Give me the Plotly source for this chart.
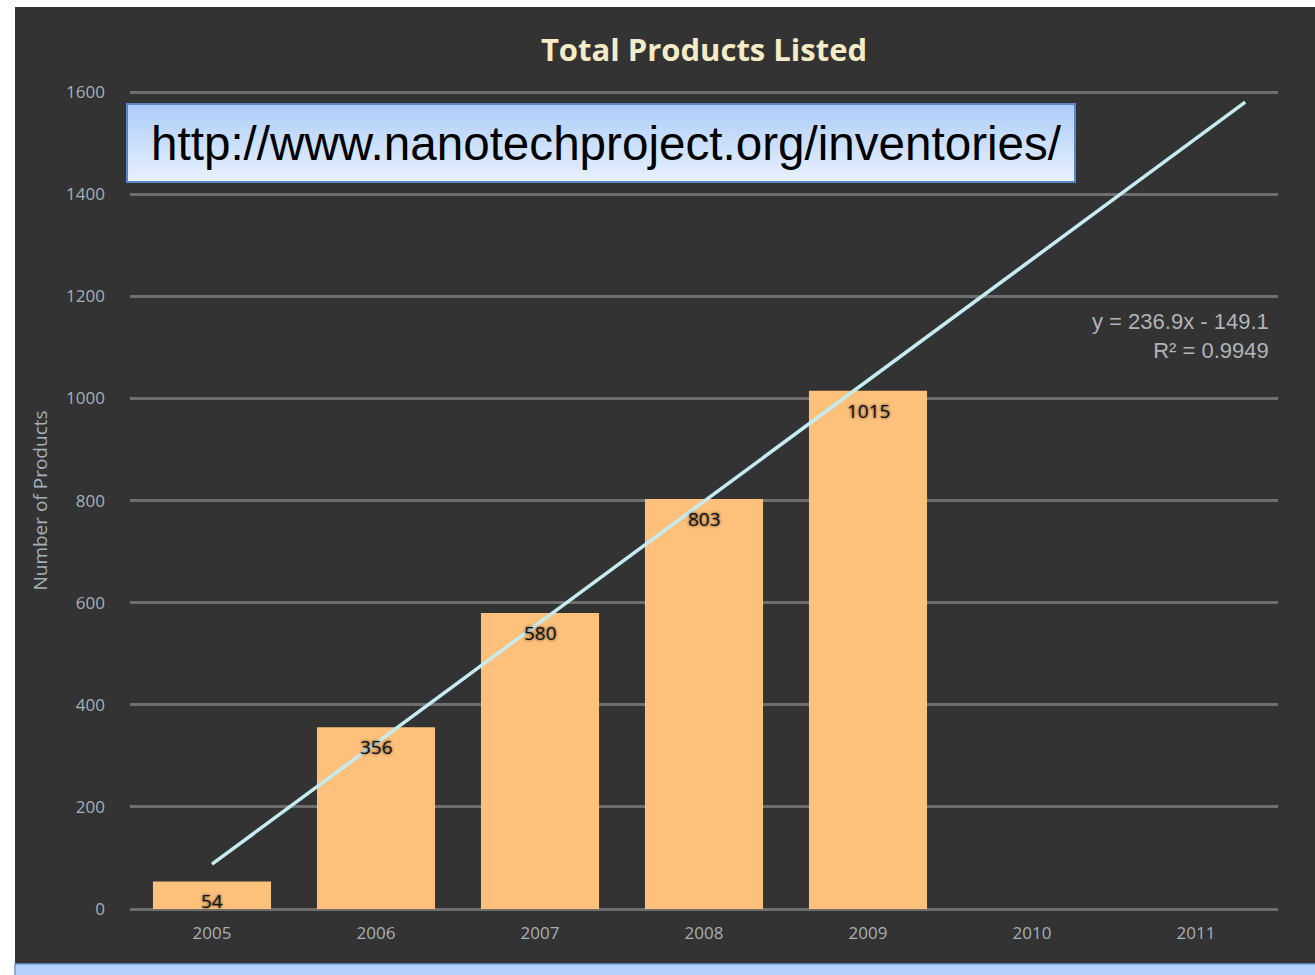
import numpy as np
import plotly.graph_objects as go

# ---------------- data ----------------
years = [2005, 2006, 2007, 2008, 2009, 2010, 2011]
products = [54, 356, 580, 803, 1015]
y_ticks = [0, 200, 400, 600, 800, 1000, 1200, 1400, 1600]
title_text = "Total Products Listed"
y_title = "Number of Products"
url_text = "http://www.nanotechproject.org/inventories/"
trend_forward = 2.3  # periods the trendline is extended past the last bar

# linear trendline (x = 1..n as in Excel)
n = len(products)
xi = np.arange(1, n + 1)
slope, intercept = np.polyfit(xi, products, 1)
r2 = np.corrcoef(xi, products)[0, 1] ** 2
eq_text = f"y = {slope:.1f}x - {abs(intercept):.1f}<br>R² = {r2:.4f}"
trend_x = [years[0], years[n - 1] + trend_forward]
trend_y = [slope * (x - years[0] + 1) + intercept for x in trend_x]

# ---------------- layout geometry ----------------
W, H = 1315, 975
ML, MR, MT, MB = 130, 37, 87, 66
PW, PH = W - ML - MR, H - MT - MB
Y_MAX = 1610


def px(x):
    return (x - ML) / PW


def py(y):
    return (H - MB - y) / PH


fig = go.Figure()

fig.add_trace(go.Bar(
    x=years[:n], y=products, width=0.72,
    marker=dict(color="#fec17c", line=dict(width=0)),
    hoverinfo="x+y", showlegend=False,
))

fig.add_trace(go.Scatter(
    x=trend_x, y=trend_y, mode="lines",
    line=dict(color="#c6ecf3", width=3.5),
    showlegend=False, hoverinfo="skip",
))

shapes = []
# dark panel
shapes.append(dict(type="rect", xref="paper", yref="paper",
                   x0=px(15), x1=px(1320), y0=py(964), y1=py(7),
                   fillcolor="#333333", line=dict(width=0), layer="below"))
# bottom light-blue strip
shapes.append(dict(type="rect", xref="paper", yref="paper",
                   x0=px(15), x1=px(1325), y0=py(985), y1=py(964),
                   fillcolor="#b4d2f9", line=dict(color="#6f9bd3", width=1.5),
                   layer="above"))
# URL box with vertical gradient
bx0, bx1, by0, by1 = 127, 1075, 104, 182
c_top = np.array([0xAD, 0xCD, 0xFA])
c_bot = np.array([0xE9, 0xF2, 0xFD])
N = 20
for i in range(N):
    t = (i + 0.5) / N
    c = (c_top * (1 - t) + c_bot * t).astype(int)
    ya = by0 + (by1 - by0) * i / N
    yb = by0 + (by1 - by0) * (i + 1) / N + 0.8
    shapes.append(dict(type="rect", xref="paper", yref="paper",
                       x0=px(bx0), x1=px(bx1), y0=py(yb), y1=py(ya),
                       fillcolor=f"rgb({c[0]},{c[1]},{c[2]})",
                       line=dict(width=0), layer="above"))
shapes.append(dict(type="rect", xref="paper", yref="paper",
                   x0=px(bx0), x1=px(bx1), y0=py(by1), y1=py(by0),
                   fillcolor="rgba(0,0,0,0)", line=dict(color="#5a88c4", width=2),
                   layer="above"))

annotations = []
# bar value labels
for yr, v in zip(years[:n], products):
    annotations.append(dict(
        x=yr, y=v, xref="x", yref="y", text=str(v), showarrow=False,
        yanchor="middle", yshift=-20,
        font=dict(family="Open Sans", size=19, color="#111111",
                  shadow="0px 0px 3px rgba(0,0,0,0.8)"),
    ))
# equation
annotations.append(dict(
    x=px(1271), y=1200, xref="paper", yref="y", text=eq_text,
    showarrow=False, xanchor="right", yanchor="top", yshift=-11, align="right",
    font=dict(family="Liberation Sans, Arial", size=22, color="#b0b4b7"),
))
# y axis title
annotations.append(dict(
    x=px(40), y=800, xref="paper", yref="y", text=y_title, showarrow=False,
    textangle=-90, xanchor="center", yanchor="middle",
    font=dict(family="Open Sans", size=19, color="#a3b1b8"),
))
# URL text
annotations.append(dict(
    x=px(149), y=py(143), xref="paper", yref="paper", text=url_text,
    showarrow=False, xanchor="left", yanchor="middle",
    font=dict(family="Liberation Sans, Arial", size=47.6, color="#000000"),
))

fig.update_layout(
    width=W, height=H,
    margin=dict(l=ML, r=MR, t=MT, b=MB, pad=0),
    paper_bgcolor="#ffffff",
    plot_bgcolor="rgba(0,0,0,0)",
    title=dict(text=f"<b>{title_text}</b>", x=0.5, xref="paper",
               y=1 - 50 / H, yref="container", xanchor="center", yanchor="middle",
               font=dict(family="Open Sans", size=31, color="#f4ecc6")),
    shapes=shapes,
    annotations=annotations,
    xaxis=dict(
        range=[years[0] - 0.5, years[-1] + 0.5],
        tickvals=years, ticktext=[str(y) for y in years],
        showgrid=False, zeroline=False, showline=False,
        ticks="", ticklabelstandoff=12,
        tickfont=dict(family="Open Sans", size=17, color="#a3b1b8"),
        fixedrange=True,
    ),
    yaxis=dict(
        range=[0, Y_MAX], tickvals=y_ticks,
        showgrid=True, gridcolor="#6e6e6e", gridwidth=3,
        zeroline=True, zerolinecolor="#6e6e6e", zerolinewidth=3,
        showline=False, ticks="", ticklabelstandoff=24,
        tickfont=dict(family="Open Sans", size=17, color="#a3b1b8"),
        fixedrange=True,
    ),
    hovermode=False,
)

fig.write_html("out.html")
